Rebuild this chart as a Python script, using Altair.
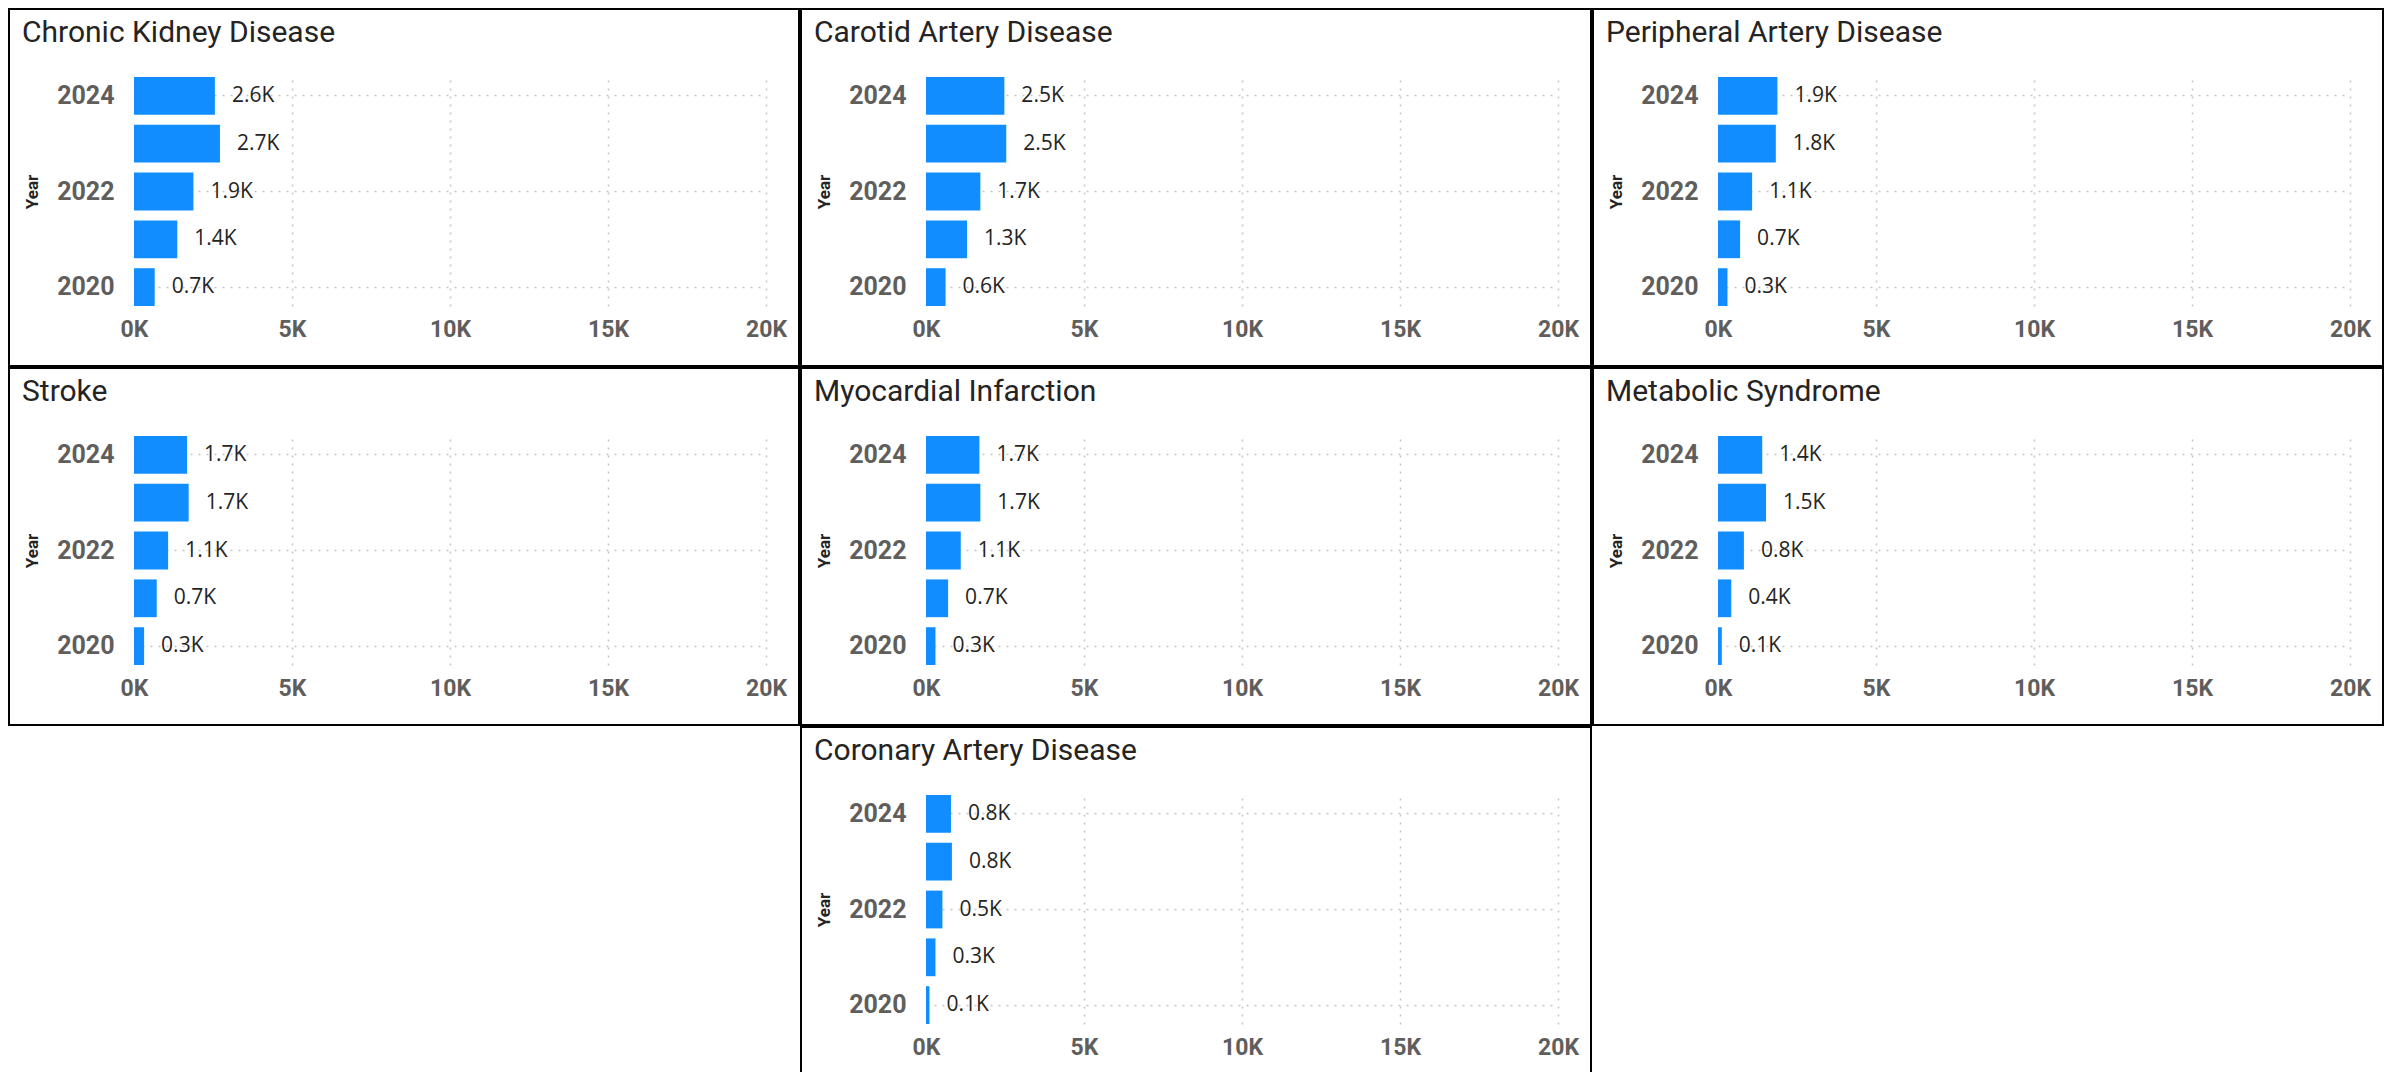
import altair as alt
import pandas as pd

years = [2024, 2023, 2022, 2021, 2020]
diseases = [
    "Chronic Kidney Disease",
    "Carotid Artery Disease",
    "Peripheral Artery Disease",
    "Stroke",
    "Myocardial Infarction",
    "Metabolic Syndrome",
    "Coronary Artery Disease",
]
ckd = [2560, 2720, 1880, 1370, 655]
carotid = [2480, 2540, 1720, 1300, 620]
peripheral = [1880, 1830, 1080, 700, 300]
stroke = [1680, 1730, 1080, 720, 320]
myocardial = [1690, 1720, 1100, 700, 300]
metabolic = [1400, 1520, 820, 420, 120]
coronary = [790, 820, 520, 300, 110]
series = [ckd, carotid, peripheral, stroke, myocardial, metabolic, coronary]

x_ticks = [0, 5000, 10000, 15000, 20000]
y_ticks = [2024, 2022, 2020]

PW, PH = 632, 229
GRID = "#C8C6C4"


def panel(name, vals):
    df = pd.DataFrame({"Year": years, "Count": vals})
    xenc = alt.X(
        "Count:Q",
        scale=alt.Scale(domain=[0, 20000], nice=False),
        axis=alt.Axis(
            values=x_ticks,
            labelExpr="datum.value/1000 + 'K'",
            labelFont="Roboto",
            labelFontWeight="bold",
            labelFontSize=23,
            labelColor="#605E5C",
            labelFlush=False,
            labelOverlap=False,
            labelBaseline="alphabetic",
            labelPadding=30,
            ticks=False,
            domain=False,
            grid=True,
            gridDash=[2, 6],
            gridColor=GRID,
            gridWidth=1.5,
            gridOpacity=alt.condition("datum.value == 0", alt.value(0), alt.value(1)),
            title="",
        ),
    )
    yenc = alt.Y(
        "Year:O",
        sort="descending",
        scale=alt.Scale(paddingInner=0.21, paddingOuter=0),
        axis=alt.Axis(
            values=y_ticks,
            title="Year",
            labelFont="Roboto",
            labelFontWeight="bold",
            labelFontSize=25,
            labelColor="#605E5C",
            labelPadding=20,
            ticks=False,
            domain=False,
            grid=True,
            gridDash=[2, 6],
            gridColor=GRID,
            gridWidth=1.5,
            bandPosition=0.5,
            titleFont="Roboto",
            titleFontWeight="bold",
            titleFontSize=17,
            titleColor="#252423",
            titleX=-102,
            titleY=PH / 2,
            titleAngle=270,
            titleAlign="center",
            titleBaseline="middle",
        ),
    )
    one = alt.Data(values=[{"t": name}])
    border = alt.Chart(one).mark_rect(
        fill="white", fillOpacity=0, stroke="#000000", strokeWidth=2
    ).encode(x=alt.value(-125), x2=alt.value(665), y=alt.value(-68), y2=alt.value(289))
    title = alt.Chart(one).mark_text(
        align="left", baseline="alphabetic", font="Roboto", fontSize=30, color="#252423"
    ).encode(x=alt.value(-112), y=alt.value(-35), text="t:N")
    base = alt.Chart(df).encode(x=xenc, y=yenc)
    bars = base.mark_bar(color="#118DFF")
    labels = base.transform_calculate(
        lab="format(datum.Count/1000, '.1f') + 'K'"
    ).mark_text(
        align="left", baseline="middle", dx=17, font="Open Sans", fontSize=21, color="#252423"
    ).encode(text="lab:N")
    return alt.layer(border, title, bars, labels).properties(width=PW, height=PH)


panels = [panel(n, v) for n, v in zip(diseases, series)]
blank = alt.Chart(alt.Data(values=[{}])).mark_point(opacity=0).encode(
    x=alt.value(0), y=alt.value(0)
).properties(width=PW, height=PH)

cells = panels[:6] + [blank, panels[6]]
chart = alt.concat(*cells, columns=3, spacing=0).properties(
    padding=0, background="white"
).configure_view(strokeWidth=0)

chart.save("out.html", embed_options={"renderer": "svg", "actions": False})
